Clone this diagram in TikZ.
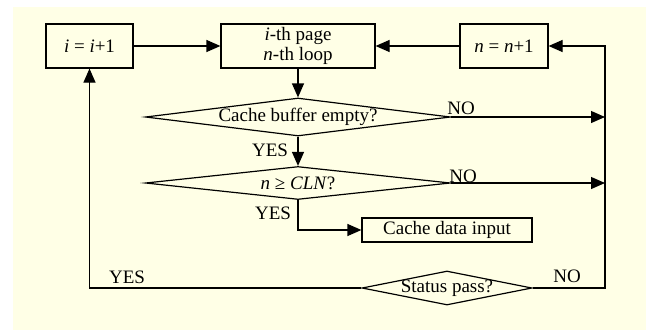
\documentclass[tikz,border=0pt]{standalone}
\usepackage{fontspec}
\setmainfont{Liberation Serif}
\usetikzlibrary{shapes.geometric,arrows.meta}
\definecolor{cream}{HTML}{FFFFE6}
\begin{document}
\begin{tikzpicture}[yscale=-1,x=1pt,y=1pt,
  font=\fontsize{19}{20.5}\selectfont,
  box/.style={draw=black,line width=1.2pt,fill=cream,inner sep=0pt,align=center},
  dia/.style={draw=black,line width=1.2pt,fill=cream,diamond,inner sep=0pt},
  arr/.style={line width=1.2pt,-{Triangle[length=14pt,width=12pt]}}]
\useasboundingbox (0,0) rectangle (646,330);
\fill[cream] (13,7) rectangle (646,330);
\node[box,minimum width=87pt,minimum height=44pt] (Ni) at (89.5,46) {\textit{i} = \textit{i}+1};
\node[box,minimum width=154pt,minimum height=44pt] (Npage) at (298,46) {\textit{i}-th page\\\textit{n}-th loop};
\node[box,minimum width=88pt,minimum height=44pt] (Nn) at (504,46) {\textit{n} = \textit{n}+1};
\node[dia,minimum width=305pt,minimum height=38pt] (Nd1) at (298,117) {\makebox[0pt]{Cache buffer empty?}};
\node[dia,minimum width=305pt,minimum height=33pt] (Nd2) at (298,183) {\makebox[0pt]{\textit{n} ≥ \textit{CLN}?}};
\node[box,minimum width=170pt,minimum height=24pt] (Ncache) at (447,230) {Cache data input};
\node[dia,minimum width=170pt,minimum height=34pt] (Nd3) at (447,288) {\makebox[0pt]{\raisebox{-3pt}{Status pass?}}};
\coordinate (Cr1) at (605,117);
\coordinate (Cr2) at (605,183);
\coordinate (Cr3) at (605,288);
\draw[arr] (Ni) -- (Npage);
\draw[arr] (Nn) -- (Npage);
\draw[arr] (Npage) -- (Nd1);
\draw[arr] (Nd1) -- (Nd2);
\draw[arr] (Nd1.east) -- (Cr1);
\draw[arr] (Nd2.east) -- (Cr2);
\draw[arr] (Nd2.south) |- (Ncache);
\draw[arr] (Nd3.west) -| (Ni);
\draw[arr] (Nd3.east) -- (Cr3) |- (Nn);
\node (Lno1) at (461,108) {NO};
\node (Lno2) at (463,176) {NO};
\node (Lno3) at (567,276) {NO};
\node (Lyes1) at (270,150) {YES};
\node (Lyes2) at (273,213) {YES};
\node (Lyes3) at (127,277) {YES};
\end{tikzpicture}
\end{document}
